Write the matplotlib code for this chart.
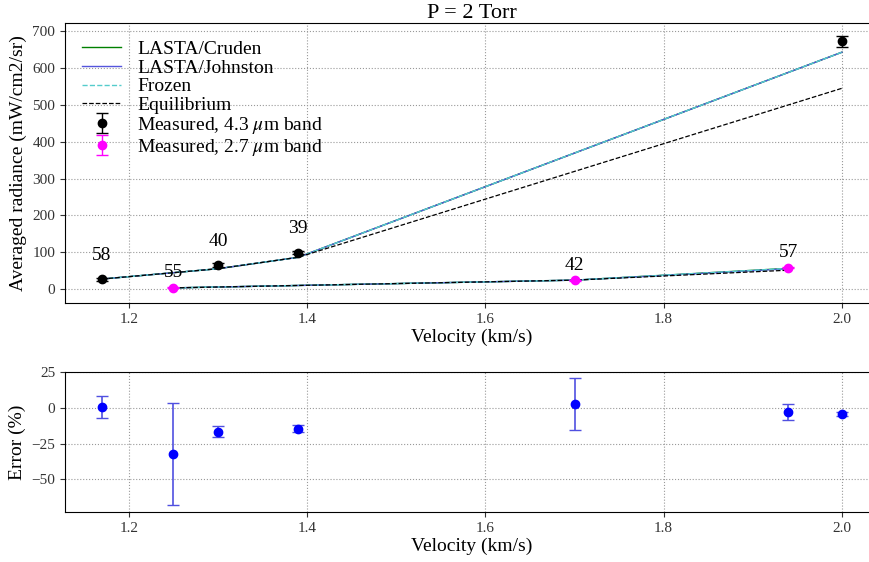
import matplotlib
matplotlib.use("Agg")
import matplotlib.pyplot as plt
import numpy as np

plt.rcParams['font.family'] = ['Liberation Serif', 'DejaVu Serif']
plt.rcParams['mathtext.fontset'] = 'stix'

# 4.3 um band
v43 = [1.17, 1.30, 1.39, 2.00]
meas43 = [27, 65, 99, 673]
err43 = [4, 5, 5, 15]
cruden43 = [27, 55, 86, 643]
johnston43 = [27, 55, 86, 643]
frozen43 = [27, 55, 86, 643]
equil43 = [27, 55, 86, 545]
n43 = ["58", "40", "39", None]

# 2.7 um band
v27 = [1.25, 1.70, 1.94]
meas27 = [3.5, 23.6, 58]
err27 = [2, 2, 2]
cruden27 = [3, 24, 56]
johnston27 = [3, 24, 55]
frozen27 = [3, 24, 56]
equil27 = [3, 24, 51]
n27 = ["55", "42", "57"]

# error panel
v_err = [1.17, 1.25, 1.30, 1.39, 1.70, 1.94, 2.00]
err_val = [0.9, -32.2, -16.6, -14.5, 2.6, -3.0, -4.4]
err_lo = [7.7, 36.0, 3.5, 2.5, 18.0, 5.6, 1.6]
err_hi = [7.7, 35.9, 4.0, 2.6, 18.4, 6.0, 1.4]

fig = plt.figure(figsize=(8.7, 5.62), dpi=100)
ax1 = fig.add_axes([0.0747, 0.4609, 0.9356, 0.498])
ax2 = fig.add_axes([0.0747, 0.089, 0.9356, 0.249])
xlim = (1.1285, 2.0415)

for vx, c, j, f, e in [(v43, cruden43, johnston43, frozen43, equil43),
                       (v27, cruden27, johnston27, frozen27, equil27)]:
    ax1.plot(vx, c, color='green', lw=1.0, label='LASTA/Cruden')
    ax1.plot(vx, j, color='#5555dd', lw=1.0, label='LASTA/Johnston')
    ax1.plot(vx, f, color='#55cccc', lw=1.0, ls='--', label='Frozen')
    ax1.plot(vx, e, color='black', lw=0.9, ls='--', label='Equilibrium')

ax1.errorbar(v43, meas43, yerr=err43, fmt='o', color='black', ms=6, capsize=4,
             elinewidth=1, label=r'Measured, 4.3 $\mu$m band')
ax1.errorbar(v27, meas27, yerr=err27, fmt='o', color='magenta', ms=6, capsize=4,
             elinewidth=1, label=r'Measured, 2.7 $\mu$m band')

for x, y, t in zip(v43, meas43, n43):
    if t:
        ax1.annotate(t, (x, y), xytext=(0, 17), textcoords='offset points',
                     ha='center', va='center', fontsize=14)
for x, y, t in zip(v27, meas27, n27):
    ax1.annotate(t, (x, y), xytext=(0, 11), textcoords='offset points',
                 ha='center', va='center', fontsize=14)

h, l = ax1.get_legend_handles_labels()
idx = [0, 1, 2, 3, 8, 9]
ax1.legend([h[i] for i in idx], [l[i] for i in idx], loc='upper left',
           frameon=False, fontsize=14, handlelength=2.0, labelspacing=0.05,
           borderaxespad=0.5)

ax1.set_xlim(*xlim)
ax1.set_ylim(-38, 722)
ax1.set_title('P = 2 Torr', fontsize=16, pad=1)
ax1.set_xlabel('Velocity (km/s)', fontsize=14, labelpad=2)
ax1.set_ylabel('Averaged radiance (mW/cm2/sr)', fontsize=14)
ax1.set_xticks([1.2, 1.4, 1.6, 1.8, 2.0])
ax1.set_yticks([0, 100, 200, 300, 400, 500, 600, 700])

ax2.errorbar(v_err, err_val, yerr=[err_lo, err_hi], fmt='o', color='blue', ms=6,
             ecolor='#5050e0', capsize=4, elinewidth=1.2)
ax2.set_xlim(*xlim)
ax2.set_ylim(-72.8, 25)
ax2.set_xticks([1.2, 1.4, 1.6, 1.8, 2.0])
ax2.set_yticks([25, 0, -25, -50])
ax2.set_xlabel('Velocity (km/s)', fontsize=14, labelpad=2)
ax2.set_ylabel('Error (%)', fontsize=14)

for ax in (ax1, ax2):
    ax.grid(True, ls=':', color='#999999', lw=0.8)
    ax.tick_params(labelsize=11, colors='#333333')
    ax.set_axisbelow(True)
    ax.spines['right'].set_visible(False)

fig.savefig('out.png', dpi=100)
